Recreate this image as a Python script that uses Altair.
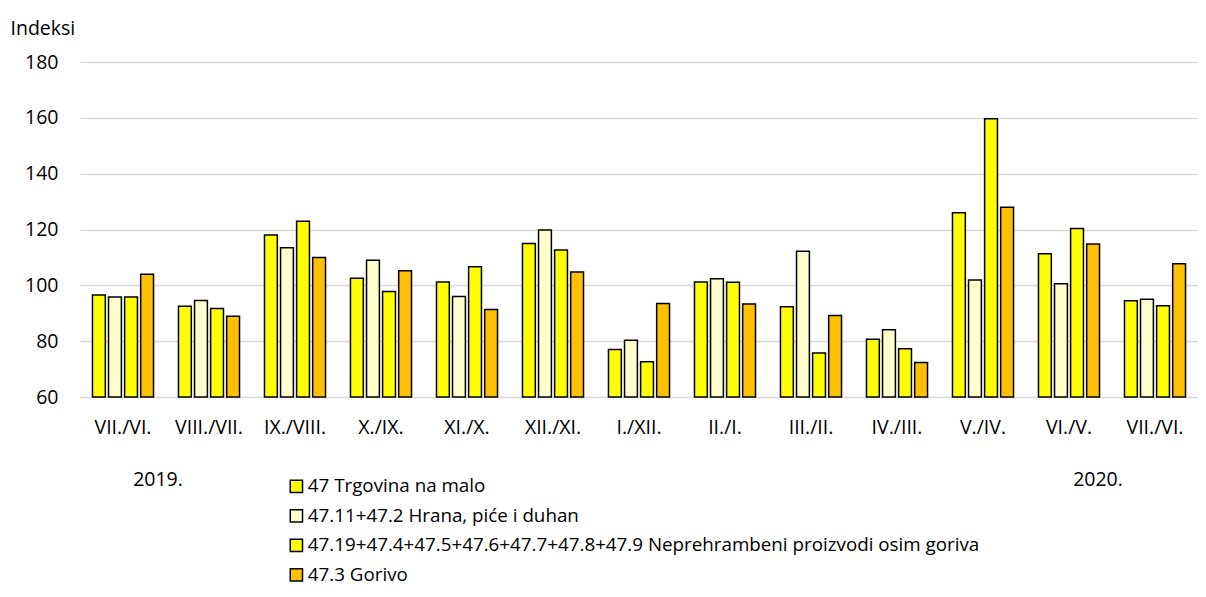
import altair as alt
import pandas as pd

labels = ["VII./VI.", "VIII./VII.", "IX./VIII.", "X./IX.", "XI./X.", "XII./XI.",
          "I./XII.", "II./I.", "III./II.", "IV./III.", "V./IV.", "VI./V.", "VII./VI."]
series = ["47 Trgovina na malo",
          "47.11+47.2 Hrana, piće i duhan",
          "47.19+47.4+47.5+47.6+47.7+47.8+47.9 Neprehrambeni proizvodi osim goriva",
          "47.3 Gorivo"]
s1 = [96.5, 92.5, 118.0, 102.5, 101.2, 115.0, 77.0, 101.2, 92.3, 80.7, 126.0, 111.3, 94.5]
s2 = [95.8, 94.6, 113.5, 109.0, 96.0, 119.8, 80.3, 102.4, 112.2, 84.1, 101.9, 100.6, 95.0]
s3 = [95.8, 91.7, 123.0, 97.8, 106.7, 112.7, 72.6, 101.1, 75.8, 77.3, 159.7, 120.4, 92.7]
s4 = [104.0, 88.9, 110.0, 105.2, 91.3, 104.8, 93.5, 93.3, 89.2, 72.4, 128.0, 114.8, 107.7]
colors = ["#FFFF00", "#FFFFCC", "#FFFF00", "#FFC000"]
years = ["2019.", "2020."]

rows = []
for vals, name in zip([s1, s2, s3, s4], series):
    for i, v in enumerate(vals):
        rows.append({"idx": i, "series": name, "value": v})
df = pd.DataFrame(rows)

label_expr = "[" + ",".join("'" + l + "'" for l in labels) + "][datum.value]"
FONT = "Open Sans"

bars = alt.Chart(df).mark_bar(stroke="black", strokeWidth=1.5).encode(
    x=alt.X("idx:O",
            scale=alt.Scale(paddingInner=0.29, paddingOuter=0.145),
            axis=alt.Axis(title=None, labelExpr=label_expr, labelAngle=0, ticks=False,
                          domain=False, labelPadding=21, labelFontSize=19.5,
                          labelFont=FONT, labelColor="black")),
    xOffset=alt.XOffset("series:N", sort=series,
                        scale=alt.Scale(paddingInner=0.2, paddingOuter=0)),
    y=alt.Y("value:Q",
            scale=alt.Scale(domain=[60, 180], zero=False, nice=False),
            axis=alt.Axis(title="Indeksi", titleAngle=0, titleAlign="left",
                          titleBaseline="middle", titleX=-70, titleY=-34,
                          titleFont=FONT, titleFontSize=19.5, titleFontWeight="normal",
                          titleColor="black",
                          values=[60, 80, 100, 120, 140, 160, 180], ticks=False,
                          domain=False, labelPadding=22, labelFontSize=19.5,
                          labelFont=FONT, labelColor="black",
                          gridColor="#d9d9d9", gridWidth=1.5)),
    y2=alt.datum(60),
    color=alt.Color("series:N", sort=series,
                    scale=alt.Scale(domain=series, range=colors),
                    legend=alt.Legend(title=None, orient="none", legendX=207, legendY=415,
                                      direction="vertical", symbolType="square",
                                      symbolSize=150, symbolStrokeColor="black",
                                      symbolStrokeWidth=1.5, symbolOpacity=1,
                                      labelFont=FONT, labelFontSize=18.8, labelColor="black",
                                      rowPadding=9.5, labelOffset=2, labelLimit=900)),
)

t1 = alt.Chart(pd.DataFrame({"t": [years[0]]})).mark_text(
    font=FONT, fontSize=19.5, baseline="middle", align="center", color="black"
).encode(text="t:N", x=alt.value(78), y=alt.value(418))
t2 = alt.Chart(pd.DataFrame({"t": [years[1]]})).mark_text(
    font=FONT, fontSize=19.5, baseline="middle", align="center", color="black"
).encode(text="t:N", x=alt.value(1018), y=alt.value(418))

chart = alt.layer(bars, t1, t2).properties(
    width=1118, height=335,
    autosize=alt.AutoSizeParams(type="none"),
    padding={"left": 72, "top": 54, "right": 0, "bottom": 192},
).configure_view(stroke=None)

chart.save("out.html", embed_options={"renderer": "svg", "actions": False})
